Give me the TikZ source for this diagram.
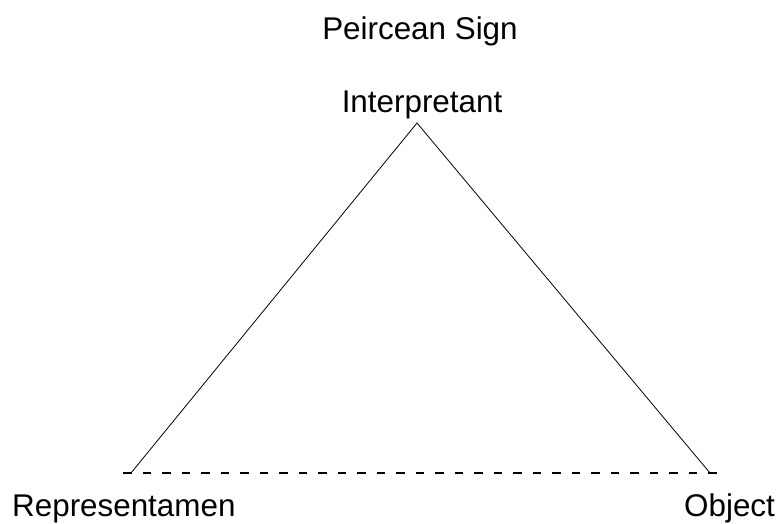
\documentclass[tikz,border=0pt]{standalone}
\usepackage{fontspec}
\setmainfont{Liberation Sans}
\usepackage{tikz}
\usetikzlibrary{positioning}

\begin{document}
\begin{tikzpicture}[
  x=1bp, y=-1bp,
  label/.style={inner sep=0pt, font=\fontsize{31.5}{37}\selectfont},
  side/.style={draw=black, line width=0.8bp},
  base/.style={draw=black, line width=2.2bp, dash pattern=on 8.5bp off 11bp}
]
\useasboundingbox (0,0) rectangle (782,524);
\coordinate (apex) at (417,123);
\coordinate (rep) at (131,473);
\coordinate (obj) at (710,473);
\coordinate (baseL) at (123,473);
\coordinate (baseR) at (718,473);
\node[label, anchor=base] (title) at (420,40) {Peircean Sign};
\node[label, anchor=base] (interp) at (422,113) {Interpretant};
\node[label, anchor=base west] (replabel) at (12,516) {Representamen};
\node[label, anchor=base west] (objlabel) at (684,516) {Object};
\draw[side] (rep) -- (apex) -- (obj);
\draw[base] (baseL) -- (baseR);
\end{tikzpicture}
\end{document}
